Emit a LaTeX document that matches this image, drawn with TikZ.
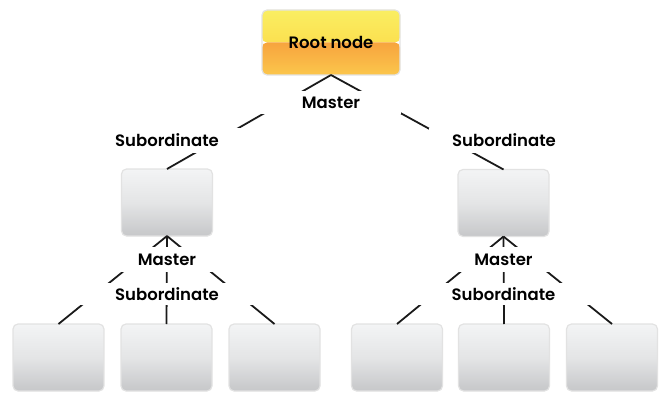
\documentclass[tikz,border=0pt]{standalone}
\usepackage{fontspec}
\setmainfont{Poppins}[UprightFont={* Medium}, BoldFont={* SemiBold}]
\usepackage{tikz}
\newcommand{\defaultboxwidth}{91pt}
\newcommand{\boxwidth}{\defaultboxwidth}
\definecolor{boxtop}{HTML}{F3F4F5}
\definecolor{boxmid}{HTML}{E4E5E6}
\definecolor{boxbottom}{HTML}{C6C7C9}
\definecolor{boxrim}{HTML}{E2E2E2}
\definecolor{roottop}{HTML}{FAEE62}
\definecolor{rootmid}{HTML}{FDD23E}
\definecolor{rootband}{HTML}{F7A43E}
\definecolor{rootbottom}{HTML}{FBC64C}
\definecolor{wire}{HTML}{1A1A1A}
\tikzstyle{member}=[draw=boxrim, line width=1.2pt, rounded corners=5pt, inner sep=0, outer sep=0,
                    minimum width=\boxwidth, minimum height=67pt,
                    top color=boxtop, bottom color=boxbottom, middle color=boxmid]
\tikzstyle{rootmember}=[draw=boxrim, line width=1.2pt, rounded corners=5pt, inner sep=0, outer sep=0,
                        minimum width=138pt, minimum height=65pt,
                        % Glossy fill: light upper half, orange band fading out below it.
                        path picture={
                          \shade[top color=roottop, bottom color=rootmid]
                            (path picture bounding box.north west) rectangle (path picture bounding box.east);
                          \shade[top color=rootband, bottom color=rootbottom]
                            (path picture bounding box.west) rectangle (path picture bounding box.south east);}]
\tikzstyle{role}=[fill=white, inner sep=0, outer sep=0, text depth=0pt, font=\bfseries\fontsize{16.5}{18}\selectfont]
\tikzstyle{link}=[draw=wire, line width=1.8pt]

\begin{document}
\begin{tikzpicture}[x=1pt, y=-1pt]
        \useasboundingbox (0, 0) rectangle (669, 401);
        \node[rootmember, font=\bfseries\fontsize{16.5}{18}\selectfont] (Root) at (331, 42.5) {Root node};
        \node[member] (SubA) at (167, 202.5) {};
        \node[member] (SubB) at (503.5, 203) {};
        \node[member] (A1) at (58.5, 357.5) {};
        \node[member] (A2) at (166.5, 357.5) {};
        \node[member] (A3) at (274.5, 357.5) {};
        \node[member] (B1) at (397, 357.5) {};
        \node[member] (B2) at (504, 357.5) {};
        \node[member] (B3) at (612, 357.5) {};
        \draw[link] (Root.south) -- (SubA.north);
        \draw[link] (Root.south) -- (SubB.north);
        \draw[link] (SubA.south) -- (A1.north);
        \draw[link] (SubA.south) -- (A2.north);
        \draw[link] (SubA.south) -- (A3.north);
        \draw[link] (SubB.south) -- (B1.north);
        \draw[link] (SubB.south) -- (B2.north);
        \draw[link] (SubB.south) -- (B3.north);
        % Role labels cut gaps into the links.
        \node[role, minimum width=140pt, minimum height=23pt] (RootMaster) at (331, 103) {Master};
        \node[role, minimum width=150pt, minimum height=25pt] (SubALabel) at (167, 140.5) {Subordinate};
        \node[role, minimum width=150pt, minimum height=25pt] (SubBLabel) at (504, 140.5) {Subordinate};
        \node[role, minimum width=98pt, minimum height=25pt] (SubAMaster) at (167, 259.5) {Master};
        \node[role, minimum width=98pt, minimum height=25pt] (SubBMaster) at (503.5, 259.5) {Master};
        \node[role, minimum width=178pt, minimum height=22pt] (ALabel) at (167, 294) {Subordinate};
        \node[role, minimum width=178pt, minimum height=22pt] (BLabel) at (503.5, 294) {Subordinate};
    \end{tikzpicture}
\end{document}
